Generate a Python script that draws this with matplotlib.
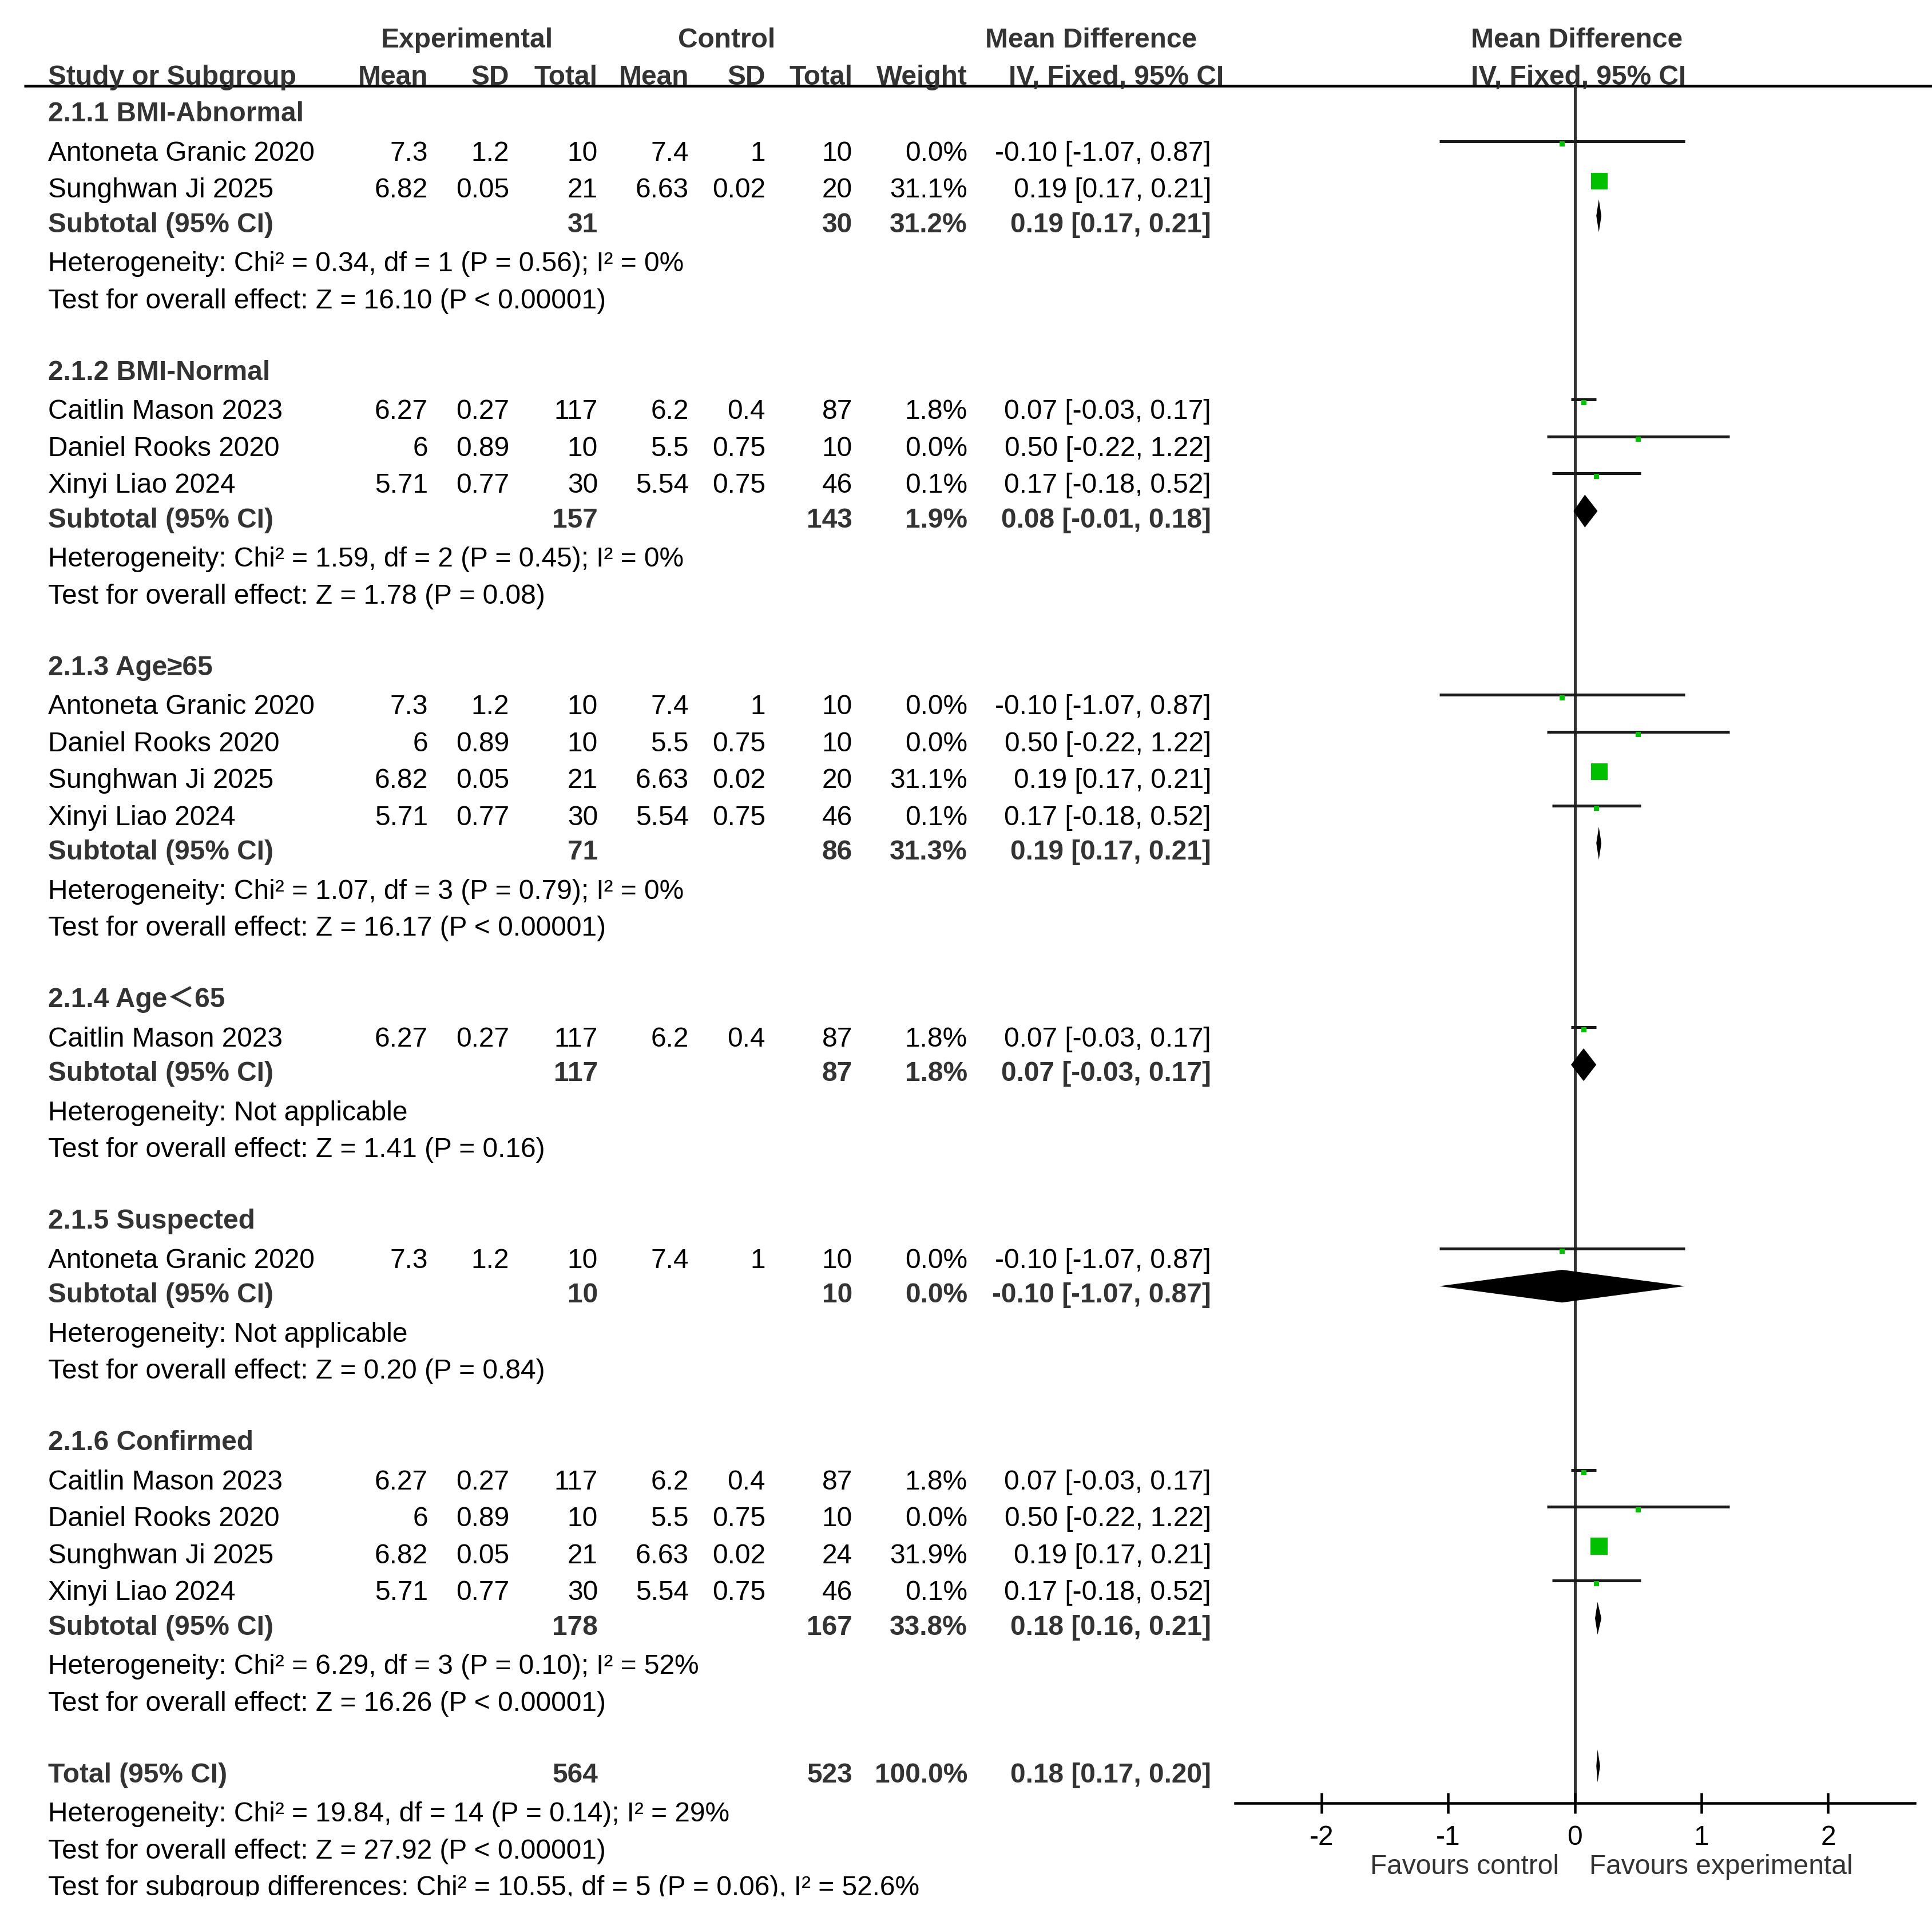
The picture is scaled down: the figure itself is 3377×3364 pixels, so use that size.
import numpy as np
import matplotlib
matplotlib.use('Agg')
import matplotlib.pyplot as plt
from matplotlib.patches import Polygon, Rectangle

W, H = 3377, 3364
DPI = 100
FS = 34.5
plt.rcParams['font.family'] = ['Liberation Sans', 'Noto Sans CJK SC', 'DejaVu Sans']

# ---- data ----
group_names = ["2.1.1 BMI-Abnormal", "2.1.2 BMI-Normal", "2.1.3 Age≥65",
               "2.1.4 Age＜65", "2.1.5 Suspected", "2.1.6 Confirmed"]
row_group = [0, 0, 1, 1, 1, 2, 2, 2, 2, 3, 4, 5, 5, 5, 5]
study = ["Antoneta Granic 2020", "Sunghwan Ji 2025",
         "Caitlin Mason 2023", "Daniel Rooks 2020", "Xinyi Liao 2024",
         "Antoneta Granic 2020", "Daniel Rooks 2020", "Sunghwan Ji 2025", "Xinyi Liao 2024",
         "Caitlin Mason 2023",
         "Antoneta Granic 2020",
         "Caitlin Mason 2023", "Daniel Rooks 2020", "Sunghwan Ji 2025", "Xinyi Liao 2024"]
exp_mean = [7.3, 6.82, 6.27, 6, 5.71, 7.3, 6, 6.82, 5.71, 6.27, 7.3, 6.27, 6, 6.82, 5.71]
exp_sd = [1.2, 0.05, 0.27, 0.89, 0.77, 1.2, 0.89, 0.05, 0.77, 0.27, 1.2, 0.27, 0.89, 0.05, 0.77]
exp_n = [10, 21, 117, 10, 30, 10, 10, 21, 30, 117, 10, 117, 10, 21, 30]
ctl_mean = [7.4, 6.63, 6.2, 5.5, 5.54, 7.4, 5.5, 6.63, 5.54, 6.2, 7.4, 6.2, 5.5, 6.63, 5.54]
ctl_sd = [1, 0.02, 0.4, 0.75, 0.75, 1, 0.75, 0.02, 0.75, 0.4, 1, 0.4, 0.75, 0.02, 0.75]
ctl_n = [10, 20, 87, 10, 46, 10, 10, 20, 46, 87, 10, 87, 10, 24, 46]
weight = [0.0, 31.1, 1.8, 0.0, 0.1, 0.0, 0.0, 31.1, 0.1, 1.8, 0.0, 1.8, 0.0, 31.9, 0.1]
md = [-0.10, 0.19, 0.07, 0.50, 0.17, -0.10, 0.50, 0.19, 0.17, 0.07, -0.10, 0.07, 0.50, 0.19, 0.17]
md_lo = [-1.07, 0.17, -0.03, -0.22, -0.18, -1.07, -0.22, 0.17, -0.18, -0.03, -1.07, -0.03, -0.22, 0.17, -0.18]
md_hi = [0.87, 0.21, 0.17, 1.22, 0.52, 0.87, 1.22, 0.21, 0.52, 0.17, 0.87, 0.17, 1.22, 0.21, 0.52]

sub_exp_n = [31, 157, 71, 117, 10, 178]
sub_ctl_n = [30, 143, 86, 87, 10, 167]
sub_weight = [31.2, 1.9, 31.3, 1.8, 0.0, 33.8]
sub_md = [0.19, 0.08, 0.19, 0.07, -0.10, 0.18]
sub_lo = [0.17, -0.01, 0.17, -0.03, -1.07, 0.16]
sub_hi = [0.21, 0.18, 0.21, 0.17, 0.87, 0.21]
sub_het = ["Heterogeneity: Chi² = 0.34, df = 1 (P = 0.56); I² = 0%",
           "Heterogeneity: Chi² = 1.59, df = 2 (P = 0.45); I² = 0%",
           "Heterogeneity: Chi² = 1.07, df = 3 (P = 0.79); I² = 0%",
           "Heterogeneity: Not applicable",
           "Heterogeneity: Not applicable",
           "Heterogeneity: Chi² = 6.29, df = 3 (P = 0.10); I² = 52%"]
sub_z = ["Test for overall effect: Z = 16.10 (P < 0.00001)",
         "Test for overall effect: Z = 1.78 (P = 0.08)",
         "Test for overall effect: Z = 16.17 (P < 0.00001)",
         "Test for overall effect: Z = 1.41 (P = 0.16)",
         "Test for overall effect: Z = 0.20 (P = 0.84)",
         "Test for overall effect: Z = 16.26 (P < 0.00001)"]

tot_exp_n, tot_ctl_n, tot_weight = 564, 523, 100.0
tot_md, tot_lo, tot_hi = 0.18, 0.17, 0.20
tot_het = "Heterogeneity: Chi² = 19.84, df = 14 (P = 0.14); I² = 29%"
tot_z = "Test for overall effect: Z = 27.92 (P < 0.00001)"
tot_sub = "Test for subgroup differences: Chi² = 10.55, df = 5 (P = 0.06), I² = 52.6%"

xticks = [-2, -1, 0, 1, 2]

# ---- layout (pixels) ----
def row_y(k):
    return 64.6 + 64.5 * k

X_NAME = 84
COLS = [748, 890, 1045, 1204, 1338, 1490, 1691, 2117]
DARK = '#333333'
GREEN = '#00C000'
pt = 72.0 / DPI

fig = plt.figure(figsize=(W / DPI, H / DPI), dpi=DPI)
tab = fig.add_axes([0, 0, 1, 1])
tab.set_xlim(0, W)
tab.set_ylim(H, 0)
tab.axis('off')

X0, X1 = 2159.2, 3347.1
Y_TOP, Y_AX = 150, 3151
fp = fig.add_axes([X0 / W, 1 - Y_AX / H, (X1 - X0) / W, (Y_AX - Y_TOP) / H])
fp.set_xlim(-2.68, 2.685)
fp.set_ylim(Y_AX, Y_TOP)
fp.patch.set_alpha(0)
for s in ['top', 'right', 'left']:
    fp.spines[s].set_visible(False)
fp.spines['bottom'].set_linewidth(4.5 * pt)
fp.spines['bottom'].set_color('black')
fp.set_yticks([])
fp.set_xticks(xticks)
fp.set_xticklabels([str(t) for t in xticks])
fp.tick_params(axis='x', direction='inout', length=36.6 * pt, width=4.5 * pt,
               labelsize=FS, pad=14, colors='black')
fp.axvline(0, color=DARK, lw=5 * pt, zorder=1)


def txt(x, k, s, bold=False, ha='left', color=None):
    off = 18.5 if bold else 22.5
    c = color if color else (DARK if bold else 'black')
    return tab.text(x, row_y(k) + off, s, fontsize=FS, ha=ha, va='baseline',
                    fontweight='bold' if bold else 'normal', color=c)


def fmt_ci(m, lo, hi):
    return f"{m:.2f} [{lo:.2f}, {hi:.2f}]"


def diamond(m, lo, hi, k):
    yc = row_y(k) - 10
    h = 28.6
    fp.add_patch(Polygon([(lo, yc), (m, yc - h), (hi, yc), (m, yc + h)],
                         closed=True, color='black', lw=0, zorder=3))


# header
txt(816, 0, "Experimental", bold=True, ha='center')
txt(1270, 0, "Control", bold=True, ha='center')
txt(1907, 0, "Mean Difference", bold=True, ha='center')
txt(2571, 0, "Mean Difference", bold=True)
txt(X_NAME, 1, "Study or Subgroup", bold=True)
for x, s in zip(COLS, ["Mean", "SD", "Total", "Mean", "SD", "Total", "Weight", "IV, Fixed, 95% CI"]):
    if s.startswith("IV"):
        txt(2139, 1, s, bold=True, ha='right')
    else:
        txt(x, 1, s, bold=True, ha='right')
txt(2571, 1, "IV, Fixed, 95% CI", bold=True)
tab.plot([42, W], [Y_TOP, Y_TOP], color='black', lw=4.7 * pt, solid_capstyle='butt')

k = 2
for g, gname in enumerate(group_names):
    txt(X_NAME, k, gname, bold=True)
    k += 1
    for i in [j for j, rg in enumerate(row_group) if rg == g]:
        txt(X_NAME, k, study[i])
        vals = [f"{exp_mean[i]:g}", f"{exp_sd[i]:g}", str(exp_n[i]),
                f"{ctl_mean[i]:g}", f"{ctl_sd[i]:g}", str(ctl_n[i]),
                f"{weight[i]:.1f}%", fmt_ci(md[i], md_lo[i], md_hi[i])]
        for x, v in zip(COLS, vals):
            txt(x, k, v, ha='right')
        y = row_y(k)
        fp.hlines(y - 11.5, md_lo[i], md_hi[i], color='#1a1a1a', lw=5 * pt, zorder=2)
        side = max(9.0, 29.0 * np.sqrt(weight[i] / 31.1))
        fp.scatter([md[i]], [y - 7], marker='s', s=(side * pt) ** 2,
                   color=GREEN, lw=0, zorder=4)
        k += 1
    txt(X_NAME, k, "Subtotal (95% CI)", bold=True)
    txt(COLS[2], k, str(sub_exp_n[g]), bold=True, ha='right')
    txt(COLS[5], k, str(sub_ctl_n[g]), bold=True, ha='right')
    txt(COLS[6], k, f"{sub_weight[g]:.1f}%", bold=True, ha='right')
    txt(COLS[7], k, fmt_ci(sub_md[g], sub_lo[g], sub_hi[g]), bold=True, ha='right')
    diamond(sub_md[g], sub_lo[g], sub_hi[g], k)
    k += 1
    txt(X_NAME, k, sub_het[g])
    k += 1
    txt(X_NAME, k, sub_z[g])
    k += 2

txt(X_NAME, k, "Total (95% CI)", bold=True)
txt(COLS[2], k, str(tot_exp_n), bold=True, ha='right')
txt(COLS[5], k, str(tot_ctl_n), bold=True, ha='right')
txt(COLS[6], k, f"{tot_weight:.1f}%", bold=True, ha='right')
txt(COLS[7], k, fmt_ci(tot_md, tot_lo, tot_hi), bold=True, ha='right')
diamond(tot_md, tot_lo, tot_hi, k)
txt(X_NAME, k + 1, tot_het)
txt(X_NAME, k + 2, tot_z)
txt(X_NAME, k + 3, tot_sub)
# the source image is cut just under this line's baseline
cut = row_y(k + 3) + 24
tab.add_patch(Rectangle((0, cut), 2150, H - cut, color='white', lw=0, zorder=10))

fp.text(-0.125, 3275, "Favours control", fontsize=FS, ha='right', va='baseline',
        color=DARK, clip_on=False)
fp.text(0.115, 3275, "Favours experimental", fontsize=FS, ha='left', va='baseline',
        color=DARK, clip_on=False)

fig.savefig('out.png', dpi=DPI, facecolor='white')
